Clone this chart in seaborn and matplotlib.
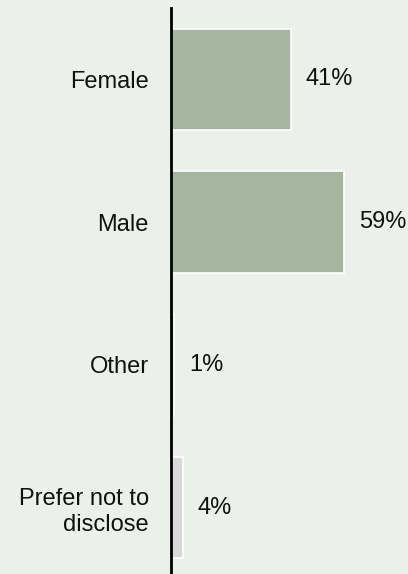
import matplotlib
matplotlib.use('Agg')
import matplotlib.pyplot as plt
import pandas as pd
import seaborn as sns

categories = ['Female', 'Male', 'Other', 'Prefer not to\ndisclose']
shares = [41, 59, 1, 4]
bar_colors = ['#A3BA9C', '#A3BA9C', '#A3BA9C', '#D9D9D9']

bg = '#ECF0EB'
sns.set_theme(style='white', rc={'axes.facecolor': bg, 'figure.facecolor': bg})
plt.rcParams['font.family'] = ['Liberation Sans', 'DejaVu Sans']

df = pd.DataFrame({'group': categories, 'share': shares})

fig = plt.figure(figsize=(4.08, 5.74), dpi=100)
# axes placed by pixel: zero line at x=171, rows every 143px
ax = fig.add_axes([171 / 408, -5 / 574, (408 - 171) / 408, 571 / 574])

sns.barplot(data=df, y='group', x='share', hue='group', palette=bar_colors,
            orient='h', width=0.71, edgecolor='white', linewidth=1.2,
            legend=False, ax=ax)

ax.set_xlim(0, 81)
ax.set_ylim(3.5, -0.5)
ax.set_xlabel('')
ax.set_ylabel('')
ax.set_xticks([])
for s in ['top', 'right', 'bottom']:
    ax.spines[s].set_visible(False)
ax.spines['left'].set_color('black')
ax.spines['left'].set_linewidth(2)
ax.tick_params(axis='y', length=0, pad=16, labelsize=17, labelcolor='#111111')
for lbl in ax.get_yticklabels():
    lbl.set_horizontalalignment('right')
    lbl.set_multialignment('right')
    lbl.set_linespacing(1.25)

for i, v in enumerate(shares):
    ax.annotate(f'{v}%', xy=(v, i), xytext=(15, 0), textcoords='offset pixels',
                ha='left', va='center', fontsize=17, color='#111111',
                annotation_clip=False)

fig.savefig('out.png', dpi=100, facecolor=bg)
